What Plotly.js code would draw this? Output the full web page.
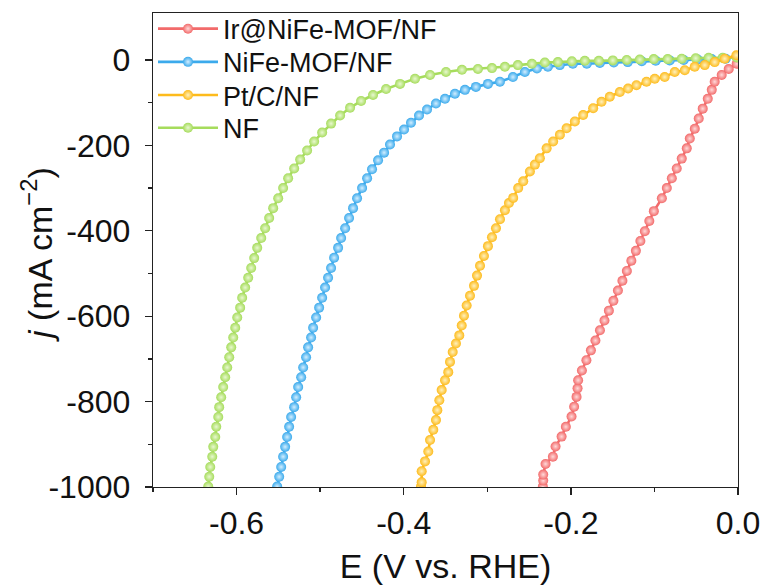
<!DOCTYPE html>
<html>
<head>
<meta charset="utf-8">
<script src="https://cdn.plot.ly/plotly-3.0.1.min.js"></script>
<style>html,body{margin:0;padding:0;background:#fff;}#chart{width:767px;height:585px;}</style>
</head>
<body>
<div id="chart"></div>
<script>
// ---- Data (E in V vs. RHE, j in mA cm^-2) ----
const seriesNames = ["Ir@NiFe-MOF/NF", "NiFe-MOF/NF", "Pt/C/NF", "NF"];

const E_Ir = [-0.2335,-0.2331,-0.2331,-0.2303,-0.2215,-0.2183,-0.2111,-0.2060,-0.1992,-0.1961,-0.1932,-0.1920,-0.1913,-0.1868,-0.1814,-0.1760,-0.1706,-0.1652,-0.1598,-0.1545,-0.1491,-0.1437,-0.1383,-0.1330,-0.1276,-0.1222,-0.1168,-0.1115,-0.1061,-0.1007,-0.0911,-0.0852,-0.0792,-0.0733,-0.0673,-0.0613,-0.0577,-0.0517,-0.0470,-0.0422,-0.0362,-0.0314,-0.0279,-0.0195,-0.0111,-0.0016];
const J_Ir = [-999,-985,-971,-946,-929,-905,-882,-859,-835,-812,-789,-769,-750,-727,-703,-680,-657,-633,-610,-587,-564,-540,-517,-494,-470,-447,-424,-401,-377,-354,-324,-300,-277,-254,-231,-207,-184,-161,-137,-114,-91,-70,-51,-35,-21,-9];

const E_NiFe = [-0.5514,-0.5490,-0.5466,-0.5443,-0.5419,-0.5395,-0.5371,-0.5347,-0.5311,-0.5287,-0.5263,-0.5227,-0.5203,-0.5168,-0.5144,-0.5108,-0.5084,-0.5048,-0.5012,-0.4976,-0.4941,-0.4905,-0.4869,-0.4833,-0.4785,-0.4749,-0.4701,-0.4654,-0.4606,-0.4558,-0.4498,-0.4438,-0.4379,-0.4307,-0.4235,-0.4164,-0.4080,-0.3996,-0.3913,-0.3817,-0.3721,-0.3614,-0.3506,-0.3387,-0.3267,-0.3136,-0.2992,-0.2849,-0.2693,-0.2550,-0.2406,-0.2275,-0.2132,-0.1976,-0.1809,-0.1653,-0.1486,-0.1319,-0.1151,-0.0984,-0.0817,-0.0649,-0.0482,-0.0315,-0.0147];
const J_NiFe = [-999,-976,-953,-929,-906,-883,-859,-836,-813,-790,-766,-743,-720,-696,-673,-650,-627,-603,-580,-557,-533,-510,-487,-463,-440,-417,-394,-370,-347,-324,-300,-277,-256,-235,-217,-198,-179,-163,-147,-130,-116,-102,-91,-79,-70,-63,-56,-51,-40,-28,-20,-16,-12,-9,-9,-7,-6,-5,-3,-2,-1,0,1,2,3];

const E_Pt = [-0.3793,-0.3785,-0.3785,-0.3745,-0.3706,-0.3685,-0.3646,-0.3614,-0.3598,-0.3574,-0.3546,-0.3506,-0.3467,-0.3446,-0.3414,-0.3375,-0.3335,-0.3306,-0.3279,-0.3247,-0.3207,-0.3159,-0.3123,-0.3087,-0.3040,-0.2992,-0.2944,-0.2896,-0.2848,-0.2789,-0.2741,-0.2690,-0.2630,-0.2570,-0.2490,-0.2430,-0.2371,-0.2290,-0.2212,-0.2131,-0.2051,-0.1952,-0.1853,-0.1733,-0.1633,-0.1534,-0.1414,-0.1315,-0.1215,-0.1095,-0.0996,-0.0877,-0.0757,-0.0637,-0.0518,-0.0398,-0.0279,-0.0159,-0.0019];
const J_Pt = [-999,-989,-963,-940,-917,-890,-866,-843,-820,-797,-773,-750,-731,-707,-684,-664,-645,-622,-599,-575,-552,-529,-505,-482,-459,-436,-415,-394,-373,-352,-335,-323,-300,-284,-261,-245,-230,-207,-191,-175,-160,-144,-129,-113,-98,-86,-75,-67,-59,-51,-44,-40,-28,-24,-16,-12,-5,3,11];

const E_NF = [-0.6339,-0.6327,-0.6315,-0.6291,-0.6279,-0.6255,-0.6243,-0.6219,-0.6208,-0.6184,-0.6160,-0.6136,-0.6112,-0.6088,-0.6064,-0.6040,-0.6016,-0.5992,-0.5957,-0.5933,-0.5897,-0.5861,-0.5825,-0.5789,-0.5753,-0.5705,-0.5658,-0.5610,-0.5562,-0.5502,-0.5443,-0.5383,-0.5311,-0.5239,-0.5156,-0.5072,-0.4976,-0.4869,-0.4761,-0.4642,-0.4510,-0.4367,-0.4211,-0.4044,-0.3865,-0.3685,-0.3494,-0.3303,-0.3112,-0.2944,-0.2789,-0.2634,-0.2466,-0.2311,-0.2155,-0.1988,-0.1833,-0.1665,-0.1498,-0.1331,-0.1175,-0.1008,-0.0841,-0.0673,-0.0506,-0.0351,-0.0183,-0.0016];
const J_NF = [-999,-976,-953,-929,-906,-883,-859,-836,-813,-790,-766,-743,-720,-696,-673,-650,-627,-603,-580,-557,-533,-510,-487,-464,-440,-417,-394,-370,-347,-324,-300,-277,-254,-233,-212,-191,-170,-149,-130,-112,-96,-82,-68,-56,-44,-35,-28,-23,-21,-19,-16,-12,-9,-6,-5,-3,-2,-2,-1,0,1,2,2,3,4,5,5,6];

const xTickVals = [-0.6, -0.4, -0.2, 0.0];
const xTickText = ["-0.6", "-0.4", "-0.2", "0.0"];
const yTickVals = [0, -200, -400, -600, -800, -1000];
const yTickText = ["0", "-200", "-400", "-600", "-800", "-1000"];
const yMinorVals = [-900, -700, -500, -300, -100];
const yTitleText = "<i>j</i> (mA cm<sup>\u22122</sup>)";

const colors = ["#F26A6A", "#3BAAEC", "#FDBB1C", "#A6DC5C"];
const shine = ["#FFD9D9", "#D2EEFF", "#FFF1BE", "#E8F8D0"];

const FONT = "Liberation Sans, Arial, Helvetica, sans-serif";

function makeTrace(x, y, i, legendId) {
  return {
    x: x, y: y, name: seriesNames[i], type: "scatter", mode: "lines+markers",
    line: {color: colors[i], width: 2.6},
    marker: {color: colors[i], size: 10, symbol: "circle",
             gradient: {type: "radial", color: shine[i]}, line: {width: 0}},
    legend: legendId
  };
}

// drawing order: green above blue, orange on top
const data = [
  makeTrace(E_Ir, J_Ir, 0, "legend"),
  makeTrace(E_NiFe, J_NiFe, 1, "legend2"),
  makeTrace(E_NF, J_NF, 3, "legend4"),
  makeTrace(E_Pt, J_Pt, 2, "legend3")
];

function legendAt(yPaper) {
  return {x: 0, y: yPaper, xanchor: "left", yanchor: "middle", bgcolor: "rgba(0,0,0,0)",
          borderwidth: 0, font: {size: 27, family: FONT, color: "#111"}, itemwidth: 60};
}

const layout = {
  width: 767, height: 585,
  margin: {l: 153, r: 29, t: 13, b: 98, autoexpand: false},
  paper_bgcolor: "#ffffff", plot_bgcolor: "#ffffff",
  font: {family: FONT, color: "#000"},
  showlegend: true,
  legend: legendAt(0.966),
  legend2: legendAt(0.896),
  legend3: legendAt(0.826),
  legend4: legendAt(0.757),
  xaxis: {
    range: [-0.7, 0.0], showgrid: false, zeroline: false,
    showline: true, linecolor: "#222", linewidth: 1.3, mirror: true,
    ticks: "outside", ticklen: 7, tickwidth: 1.3, tickcolor: "#222",
    tickmode: "array", tickvals: xTickVals, ticktext: xTickText,
    tickfont: {size: 32, family: FONT, color: "#111"}, ticklabelstandoff: 0,
    minor: {dtick: 0.1, ticks: "outside", ticklen: 4, tickwidth: 1.3, tickcolor: "#222"},
    title: {text: "E (V vs. RHE)", font: {size: 34, family: FONT, color: "#111"}, standoff: 18}
  },
  yaxis: {
    range: [-1000, 110], showgrid: false, zeroline: false,
    showline: true, linecolor: "#222", linewidth: 1.3, mirror: true,
    ticks: "outside", ticklen: 7, tickwidth: 1.3, tickcolor: "#222",
    tickmode: "array", tickvals: yTickVals, ticktext: yTickText,
    tickfont: {size: 32, family: FONT, color: "#111"}, ticklabelstandoff: 8,
    minor: {tickmode: "array", tickvals: yMinorVals, ticks: "outside", ticklen: 4, tickwidth: 1.3, tickcolor: "#222"}
  },
  annotations: [{
    text: yTitleText, xref: "paper", yref: "paper", x: -0.198, y: 0.49,
    xanchor: "center", yanchor: "middle", textangle: -90, showarrow: false,
    font: {size: 34, family: FONT, color: "#111"}
  }]
};

Plotly.newPlot("chart", data, layout, {displayModeBar: false, staticPlot: true});
</script>
</body>
</html>
